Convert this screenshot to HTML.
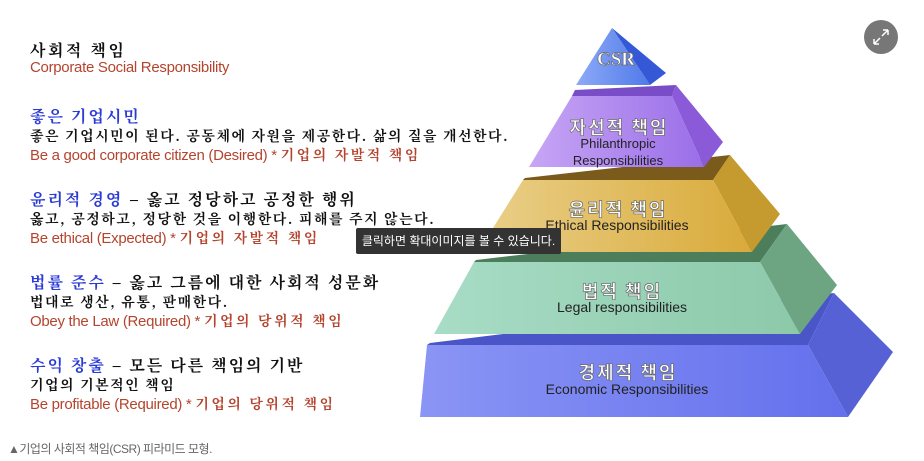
<!DOCTYPE html>
<html><head><meta charset="utf-8"><style>
body{margin:0;width:924px;height:461px;background:#fff;overflow:hidden;position:relative;font-family:"Liberation Sans","Noto Sans CJK KR",sans-serif}
.t{position:absolute;left:30px;white-space:nowrap}
.k{font-family:"Noto Serif CJK KR","Noto Serif CJK SC","Noto Sans CJK KR",serif;font-weight:bold}
.h{font-size:16px;color:#2b3bd6;letter-spacing:2px}
.b{font-size:14px;color:#111;letter-spacing:1.5px}
.r{font-size:15px;color:#b4442e;letter-spacing:-0.3px}
.r .k{letter-spacing:2.5px;font-size:14px}
</style></head><body>
<div class="t k" style="top:38px;font-size:16px;color:#111;letter-spacing:2.5px">사회적 책임</div>
<div class="t r" style="top:59px">Corporate Social Responsibility</div>

<div class="t k h" style="top:104px">좋은 기업시민</div>
<div class="t k b" style="top:126px">좋은 기업시민이 된다. 공동체에 자원을 제공한다. 삶의 질을 개선한다.</div>
<div class="t r" style="top:145px">Be a good corporate citizen (Desired) * <span class="k">기업의 자발적 책임</span></div>

<div class="t k h" style="top:187px">윤리적 경영 <span style="color:#111">– 옳고 정당하고 공정한 행위</span></div>
<div class="t k b" style="top:209px">옳고, 공정하고, 정당한 것을 이행한다. 피해를 주지 않는다.</div>
<div class="t r" style="top:228px">Be ethical (Expected) * <span class="k">기업의 자발적 책임</span></div>

<div class="t k h" style="top:270px">법률 준수 <span style="color:#111">– 옳고 그름에 대한 사회적 성문화</span></div>
<div class="t k b" style="top:292px">법대로 생산, 유통, 판매한다.</div>
<div class="t r" style="top:311px">Obey the Law (Required) * <span class="k">기업의 당위적 책임</span></div>

<div class="t k h" style="top:353px">수익 창출 <span style="color:#111">– 모든 다른 책임의 기반</span></div>
<div class="t k b" style="top:375px">기업의 기본적인 책임</div>
<div class="t r" style="top:394px">Be profitable (Required) * <span class="k">기업의 당위적 책임</span></div>

<div style="position:absolute;left:8px;top:440px;font-size:12px;color:#666;letter-spacing:-0.5px">▲기업의 사회적 책임(CSR) 피라미드 모형.</div>

<svg width="924" height="461" style="position:absolute;left:0;top:0">
<defs>
<linearGradient id="gb" x1="0" y1="0" x2="1" y2="0"><stop offset="0" stop-color="#8a95f5"/><stop offset="1" stop-color="#6470ec"/></linearGradient>
<linearGradient id="gg" x1="0" y1="0" x2="1" y2="0"><stop offset="0" stop-color="#a8dcc6"/><stop offset="1" stop-color="#8cc9a9"/></linearGradient>
<linearGradient id="gy" x1="0" y1="0" x2="1" y2="0"><stop offset="0" stop-color="#ead08a"/><stop offset="1" stop-color="#d9aa3a"/></linearGradient>
<linearGradient id="gp" x1="0" y1="0" x2="1" y2="0"><stop offset="0" stop-color="#c7a6f5"/><stop offset="1" stop-color="#9a6ee8"/></linearGradient>
<linearGradient id="gc" x1="0" y1="0" x2="1" y2="0"><stop offset="0" stop-color="#8eaaf7"/><stop offset="1" stop-color="#4f7ae9"/></linearGradient>
</defs>
<polygon points="430,343 834,293 808,345 427,345" fill="#4a55c8"/>
<polygon points="808,345 834,293 893,352 848,417" fill="#5561d4"/>
<polygon points="427,345 808,345 848,417 420,417" fill="url(#gb)"/>
<polygon points="476,260 787,224 760,262 474,262" fill="#4c7e5c"/>
<polygon points="760,262 787,224 837,285 800,334" fill="#6da583"/>
<polygon points="474,262 760,262 800,334 434,334" fill="url(#gg)"/>
<polygon points="525,178 730,155 713,180 523,180" fill="#7a5b1c"/>
<polygon points="713,180 730,155 780,214 752,252" fill="#c59a2e"/>
<polygon points="523,180 713,180 752,252 478,252" fill="url(#gy)"/>
<polygon points="575,90 676,85 672,96 572,96" fill="#7a4dc8"/>
<polygon points="672,96 676,85 723,142 704,167" fill="#8a5ad8"/>
<polygon points="572,96 672,96 704,167 529,167" fill="url(#gp)"/>
<polygon points="612,28 666,73 650,85" fill="#3559d6"/>
<polygon points="612,28 650,85 576,85" fill="url(#gc)"/>
<g font-family="Noto Sans CJK KR, sans-serif" font-weight="bold" fill="#fff" text-anchor="middle" stroke="#6a6a6a" stroke-width="0.7" letter-spacing="2">
<text x="616" y="65" font-size="19" font-family="Liberation Serif, serif" letter-spacing="0">CSR</text>
<text x="619" y="134" font-size="18">자선적 책임</text>
<text x="618" y="216" font-size="18">윤리적 책임</text>
<text x="622" y="298" font-size="18">법적 책임</text>
<text x="628" y="379" font-size="18">경제적 책임</text>
</g>
<g font-family="Liberation Sans, sans-serif" font-size="13" fill="#222" text-anchor="middle">
<text x="618" y="148">Philanthropic</text>
<text x="618" y="165">Responsibilities</text>
<text x="617" y="230" font-size="14">Ethical Responsibilities</text>
<text x="622" y="312" font-size="14">Legal responsibilities</text>
<text x="627" y="394" font-size="14">Economic Responsibilities</text>
</g>
<circle cx="881" cy="37" r="17" fill="#777"/>
<path d="M874 44 L880 38 M874 44 L874 39 M874 44 L879 44 M888 30 L882 36 M888 30 L888 35 M888 30 L883 30" stroke="#fff" stroke-width="1.5" fill="none"/>
</svg>
<div style="position:absolute;left:356px;top:228px;width:205px;height:26px;background:#333;border-radius:2px;color:#fff;font-size:12px;line-height:26px;text-align:center">클릭하면 확대이미지를 볼 수 있습니다.</div>
</body></html>
